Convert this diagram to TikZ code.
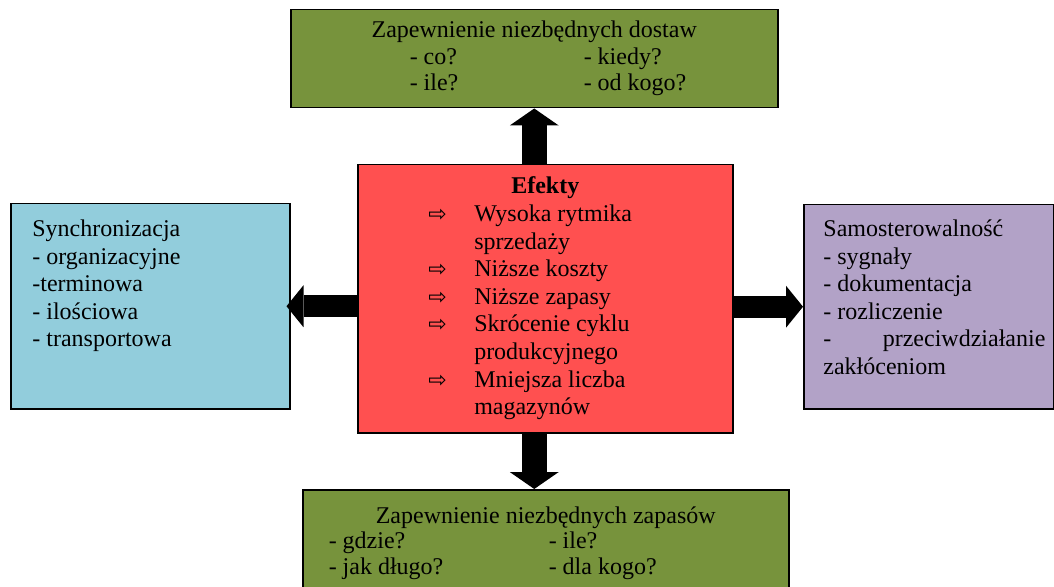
\documentclass[tikz,border=0pt]{standalone}
\usepackage{fontspec}
\setmainfont{Liberation Serif}
\newfontfamily\symfont{DejaVu Sans}
\usetikzlibrary{positioning,arrows.meta}

\definecolor{supplygreen}{RGB}{119,147,60}
\definecolor{effectred}{RGB}{255,80,80}
\definecolor{syncblue}{RGB}{146,205,220}
\definecolor{selfviolet}{RGB}{178,162,199}

\newcommand{\effarrow}{{\symfont\fontsize{11}{12}\selectfont ⇨}}
\newcommand{\qpair}[4]{\makebox[#1][l]{#3}\makebox[#2][l]{#4}}

\begin{document}
\begin{tikzpicture}[
  x = 0.5pt, y = -0.5pt,
  every node/.style = {font = \fontsize{12}{13.8}\selectfont},
  box/.style = {draw, line width = 0.75pt, anchor = north west, inner sep = 0pt},
  listtext/.style = {inner sep = 0pt},
  bigarrow/.style 2 args = {line width = #1,
    -{Triangle[length = 8.5pt, width = #2, line width = 0pt]}},
  ]
  \useasboundingbox (0,0) rectangle (1054,587);
  \clip (0,0) rectangle (1054,587);

  % boxes
  \node[box, fill = supplygreen, minimum width = 243.5pt, minimum height = 49pt,
        font = \fontsize{12}{13.2}\selectfont] (dostawy) at (290,9)
    {\begin{tabular}{@{}c@{}}
       Zapewnienie niezbędnych dostaw\\
       \qpair{87pt}{37.5pt}{- co?}{- kiedy?}\\
       \qpair{87pt}{37.5pt}{- ile?}{- od kogo?}
     \end{tabular}};

  \node[box, fill = effectred, minimum width = 187.5pt, minimum height = 134pt] (efekty) at (357,164)
    {\begin{tabular}{@{}p{23pt}@{}p{94pt}@{}}
       \multicolumn{2}{@{}c@{}}{\textbf{Efekty}}\\
       \effarrow & Wysoka rytmika\\
                 & sprzedaży\\
       \effarrow & Niższe koszty\\
       \effarrow & Niższe zapasy\\
       \effarrow & Skrócenie cyklu\\
                 & produkcyjnego\\
       \effarrow & Mniejsza liczba\\
                 & magazynów
     \end{tabular}};

  \node[box, fill = syncblue, minimum width = 139.5pt, minimum height = 102.5pt] (sync) at (10,203) {};
  \node[listtext, below right = 6.85pt and 11pt of sync.north west] (syncText)
    {\begin{tabular}{@{}l@{}}
       Synchronizacja\\
       - organizacyjne\\
       -terminowa\\
       - ilościowa\\
       - transportowa
     \end{tabular}};

  \node[box, fill = selfviolet, minimum width = 125pt, minimum height = 102pt] (samo) at (803,204) {};
  \node[listtext, below right = 6.35pt and 10pt of samo.north west] (samoText)
    {\begin{tabular}{@{}p{111pt}@{}}
       Samosterowalność\\
       - sygnały\\
       - dokumentacja\\
       - rozliczenie\\
       -\hfill przeciwdziałanie\\
       zakłóceniom
     \end{tabular}};

  \node[box, fill = supplygreen, minimum width = 243pt, minimum height = 54pt,
        font = \fontsize{12}{12.7}\selectfont] (zapasy) at (302,489)
    {\begin{tabular}{@{}c@{}}
       Zapewnienie niezbędnych zapasów\\
       \qpair{110pt}{107pt}{- gdzie?}{- ile?}\\
       \qpair{110pt}{107pt}{- jak długo?}{- dla kogo?}
     \end{tabular}};

  % arrows
  \draw[bigarrow = {12.5pt}{24.5pt}] (dostawy.south |- efekty.north) -- (dostawy.south);
  \draw[bigarrow = {12.5pt}{24.5pt}] (dostawy.south |- efekty.south) -- (dostawy.south |- zapasy.north);
  \draw[bigarrow = {11pt}{21pt}, shorten > = -2pt] (efekty.west |- sync.east) -- (sync.east);
  \draw[bigarrow = {11pt}{21pt}] (efekty.east |- samo.west) -- (samo.west);
\end{tikzpicture}
\end{document}
